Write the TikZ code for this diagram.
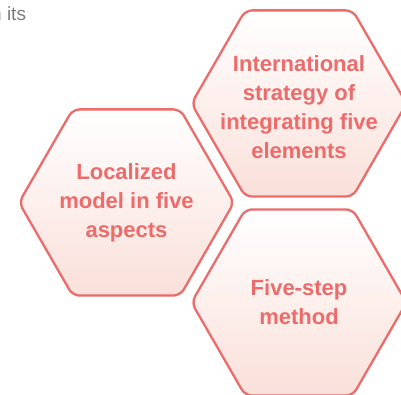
\documentclass[tikz,border=0pt]{standalone}
\usepackage{fontspec}
\setmainfont{Liberation Sans}
\usetikzlibrary{shapes.geometric}
\definecolor{hexred}{HTML}{EC6B6B}
\definecolor{hexpink}{HTML}{FAE0DA}
\definecolor{textgray}{HTML}{7A7A7A}

\begin{document}
\begin{tikzpicture}[x=1pt,y=-1pt,
    hexa/.style={regular polygon,regular polygon sides=6,minimum size=215pt,
      inner sep=0pt,draw=hexred,line width=2.3pt,rounded corners=7pt,
      top color=white,bottom color=hexpink},
    hextext/.style={text=hexred,font=\bfseries\fontsize{22}{29}\selectfont,align=center}]
  \useasboundingbox (0,0) rectangle (401,395);
  % cut-off text at the top
  \node[text=textgray,font=\fontsize{19}{22}\selectfont,anchor=base west,inner sep=0pt]
    (cut) at (-9,20.5) {n its};
  % the three hexagons
  \node[hexa] (local) at (126.5,202.5) {};
  \node[hexa] (intl) at (299,103.5) {};
  \node[hexa] (five) at (299,302.5) {};
  \node[hextext] (localtxt) at (local) {Localized\\model in five\\aspects};
  \node[hextext] (intltxt) at ([yshift=-4pt]intl) {International\\strategy of\\integrating five\\elements};
  \node[hextext] (fivetxt) at (five) {Five-step\\method};
\end{tikzpicture}
\end{document}
